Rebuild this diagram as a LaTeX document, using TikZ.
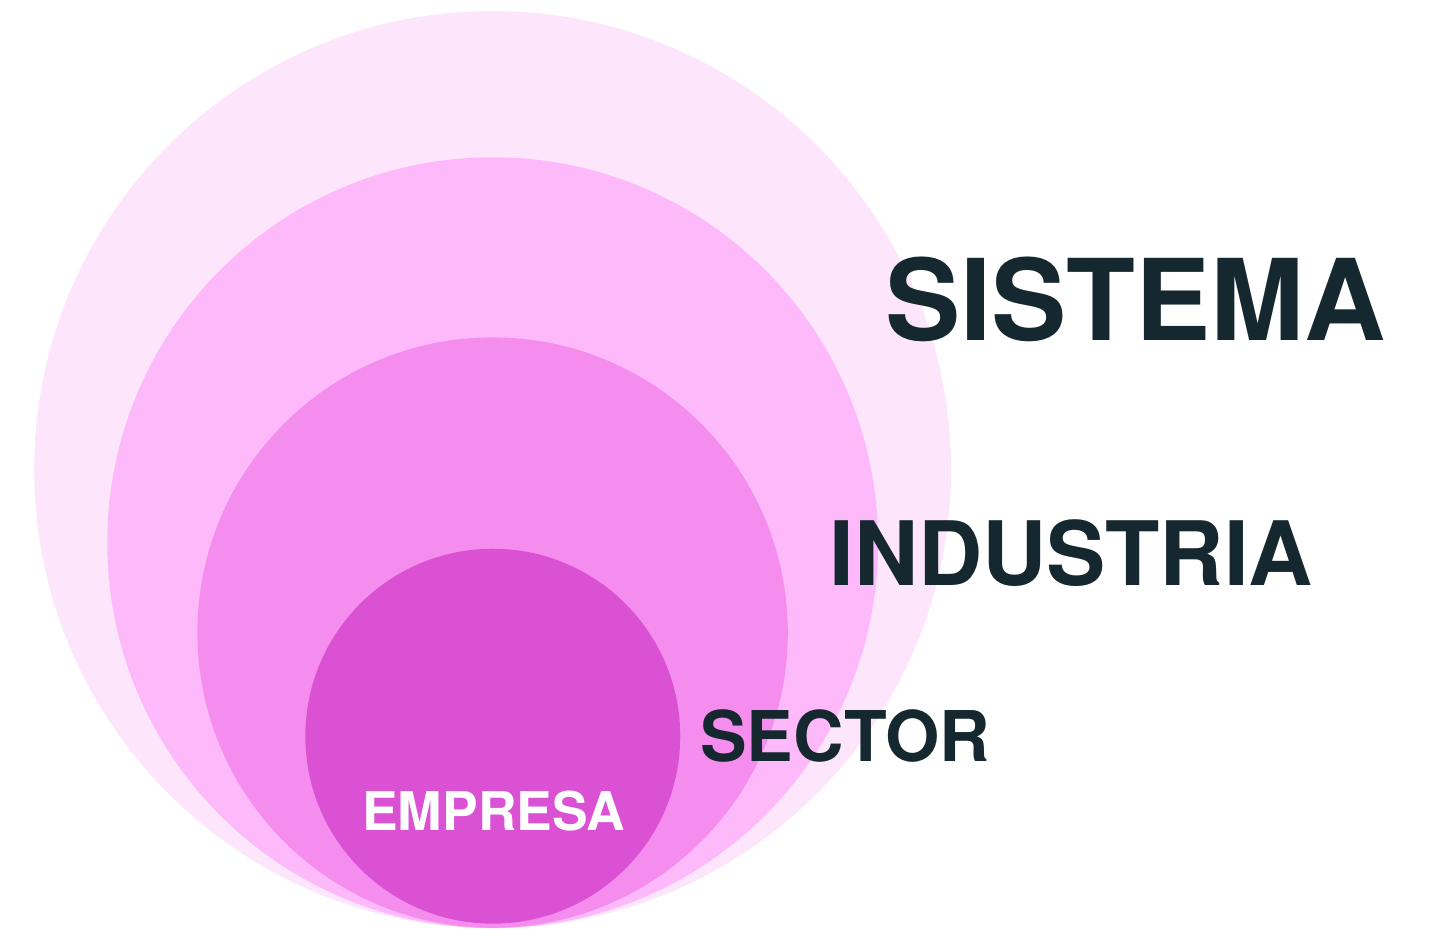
\documentclass[tikz,border=0pt]{standalone}
\usepackage{fontspec}
\setmainfont{TeX Gyre Heros}
\usetikzlibrary{positioning}
\usetikzlibrary{shapes}
\definecolor{ring_one}{RGB}{253,229,252}
\definecolor{ring_two}{RGB}{253,185,250}
\definecolor{ring_three}{RGB}{244,141,238}
\definecolor{ring_four}{RGB}{218,82,211}
\definecolor{label_dark}{RGB}{22,40,47}
\tikzset{
        ringnode/.style={circle, draw=none, inner sep=0pt},
        % Outer rings
        ring_sistema/.style={ringnode, fill=ring_one, minimum size=18.34cm},
        ring_industria/.style={ringnode, fill=ring_two, minimum size=15.42cm},
        ring_sector/.style={ringnode, fill=ring_three, minimum size=11.81cm},
        % Inner ring
        ring_empresa/.style={ringnode, fill=ring_four, minimum size=7.5cm},
        % Labels
        label_text/.style={anchor=base west, inner sep=0pt, text=label_dark, font=\bfseries}
}
\begin{document}
\begin{tikzpicture}[x=0.02cm, y=-0.02cm]
            \useasboundingbox (0,0) rectangle (1431,929);
            \node[ring_sistema] (sistema) at (492.6,469.5) {};
            \node[ring_industria] (industria) at (492.7,542.7) {};
            \node[ring_sector] (sector) at (492.6,632.6) {};
            \node[ring_empresa] (empresa) at (492.8,736.2) {};
            \node[label_text, font=\bfseries\fontsize{64.2}{70}\selectfont] (sistema_label) at (885,340.7) {SISTEMA};
            \node[label_text, font=\bfseries\fontsize{50.6}{56}\selectfont] (industria_label) at (829,585.7) {INDUSTRIA};
            \node[label_text, font=\bfseries\fontsize{39.8}{44}\selectfont] (sector_label) at (700,761.7) {SECTOR};
            \node[label_text, text=white, font=\bfseries\fontsize{30.4}{34}\selectfont] (empresa_label) at (362,830.7) {EMPRESA};
        \end{tikzpicture}
\end{document}
